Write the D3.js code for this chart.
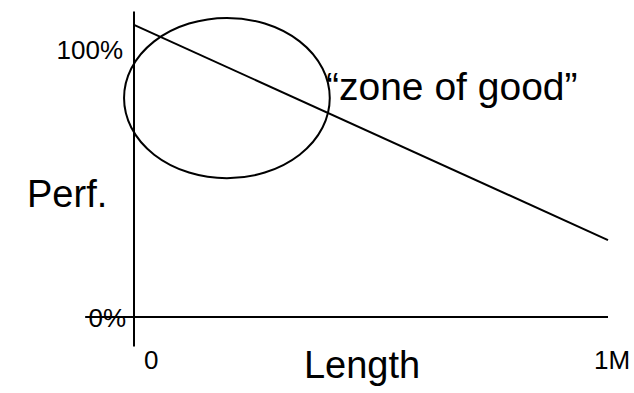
<!DOCTYPE html>
<html>
<head>
<meta charset="utf-8">
<script src="https://cdn.jsdelivr.net/npm/d3@7"></script>
<style>
  body { margin: 0; background: #fff; }
  text { font-family: "Liberation Sans", Arial, sans-serif; fill: #000; }
</style>
</head>
<body>
<div id="chart"></div>
<script>
// data
var xDomain = [0, 1000000];
var yDomain = [0, 100];
var xTicks = [0, 1000000];
var xTickLabels = ['0', '1M'];
var yTicks = [0, 100];
var yTickLabels = ['0%', '100%'];
var lineX = [0, 1000000];
var lineY = [109, 28.7];
// "zone of good" ellipse: centre and radii in data units
var zoneCenter = [196000, 81.7];
var zoneRadius = [217000, 29.9];
var zoneLabel = '\u201Czone of good\u201D';

var width = 634, height = 393;

var svg = d3.select('#chart').append('svg')
  .attr('width', width).attr('height', height);

var x = d3.scaleLinear().domain(xDomain).range([134, 608]);
var y = d3.scaleLinear().domain(yDomain).range([317, 49]);

// axes (plain lines running past the origin)
svg.append('line')
  .attr('x1', x(0)).attr('x2', x(0))
  .attr('y1', y(114)).attr('y2', y(-11))
  .attr('stroke', '#000').attr('stroke-width', 2);

svg.append('line')
  .attr('x1', x(-103000)).attr('x2', x(1000000))
  .attr('y1', y(0)).attr('y2', y(0))
  .attr('stroke', '#000').attr('stroke-width', 2);

// y tick labels
svg.selectAll('.ylab').data(yTicks).enter().append('text')
  .attr('class', 'ylab')
  .attr('x', function(d){ return d == 0 ? 126 : 123; })
  .attr('y', function(d){ return y(d) + 10; })
  .attr('text-anchor', 'end')
  .style('font-size', '26px')
  .text(function(d, i){ return yTickLabels[i]; });

// x tick labels
svg.selectAll('.xlab').data(xTicks).enter().append('text')
  .attr('class', 'xlab')
  .attr('x', function(d){ return d == 0 ? x(d) + 10 : x(d) - 14; })
  .attr('y', 369)
  .style('font-size', '26px')
  .text(function(d, i){ return xTickLabels[i]; });

// axis titles
svg.append('text')
  .attr('x', 362).attr('y', 378)
  .attr('text-anchor', 'middle')
  .style('font-size', '38px')
  .text('Length');

svg.append('text')
  .attr('x', 27).attr('y', 207)
  .style('font-size', '38px')
  .text('Perf.');

// performance line
var line = d3.line()
  .x(function(d){ return x(d[0]); })
  .y(function(d){ return y(d[1]); });

svg.append('path')
  .datum(lineX.map(function(v, i){ return [v, lineY[i]]; }))
  .attr('d', line)
  .attr('fill', 'none')
  .attr('stroke', '#000')
  .attr('stroke-width', 2);

// zone ellipse
svg.append('ellipse')
  .attr('cx', x(zoneCenter[0]))
  .attr('cy', y(zoneCenter[1]))
  .attr('rx', x(zoneRadius[0]) - x(0))
  .attr('ry', y(0) - y(zoneRadius[1]))
  .attr('fill', 'none')
  .attr('stroke', '#000')
  .attr('stroke-width', 2);

svg.append('text')
  .attr('x', 326).attr('y', 100)
  .style('font-size', '39px')
  .text(zoneLabel);
</script>
</body>
</html>
